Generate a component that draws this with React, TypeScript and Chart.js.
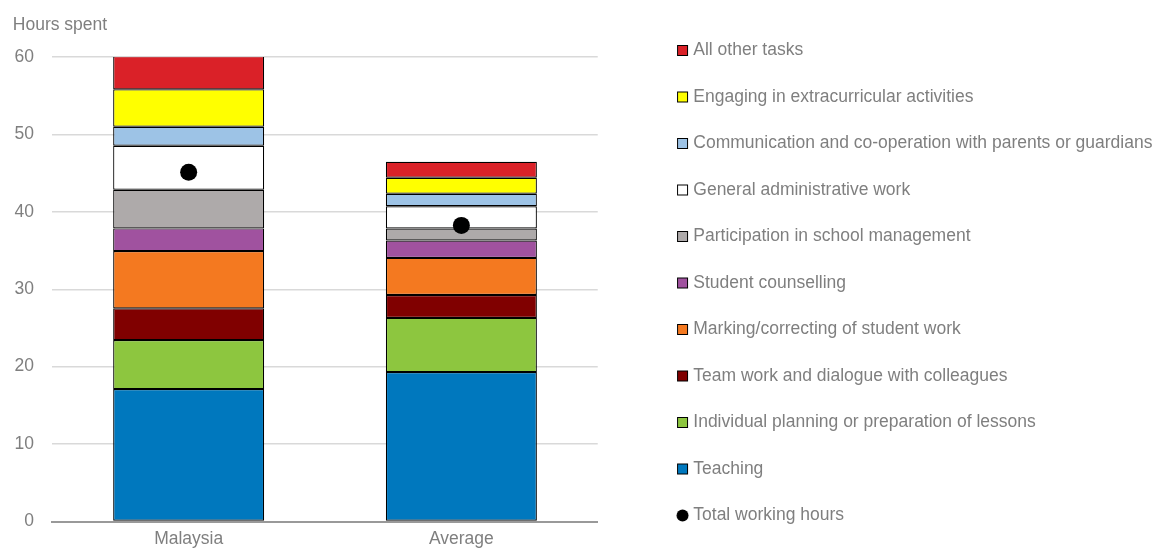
import React, { useEffect, useRef } from 'react';
import { Chart, registerables } from 'chart.js';

Chart.register(...registerables);

// ---- Data (hours per week) ----
const categories = ['Malaysia', 'Average'];
const teaching = [17.1, 19.3];
const planning = [6.33, 7.0];
const teamwork = [4.1, 2.95];
const marking = [7.4, 4.8];
const counselling = [2.93, 2.25];
const management = [4.99, 1.55];
const adminWork = [5.68, 2.88];
const parents = [2.46, 1.6];
const extracurricular = [4.83, 2.07];
const otherTasks = [4.3, 2.06];
const totalHours = [45.1, 38.25];
const yTickValues = [0, 10, 20, 30, 40, 50, 60];

const yAxisTitle = 'Hours spent';
const seriesLabels = [
  'Teaching',
  'Individual planning or preparation of lessons',
  'Team work and dialogue with colleagues',
  'Marking/correcting of student work',
  'Student counselling',
  'Participation in school management',
  'General administrative work',
  'Communication and co-operation with parents or guardians',
  'Engaging in extracurricular activities',
  'All other tasks',
];
const seriesValues = [
  teaching, planning, teamwork, marking, counselling,
  management, adminWork, parents, extracurricular, otherTasks,
];
const seriesColors = [
  '#0078BE', '#8DC63F', '#800000', '#F47920', '#A0529F',
  '#AEAAAA', '#FFFFFF', '#9DC3E6', '#FFFF00', '#DA2128',
];
const totalLabel = 'Total working hours';

const FONT = "'Liberation Sans', Arial, sans-serif";
const TEXT = '#7f7f7f';

function makeSwatch(fill: string, circle: boolean): HTMLCanvasElement {
  const c = document.createElement('canvas');
  c.width = 20;
  c.height = 13;
  const g = c.getContext('2d')!;
  if (circle) {
    g.fillStyle = '#000';
    g.beginPath();
    g.arc(13.5, 6.5, 6, 0, Math.PI * 2);
    g.fill();
  } else {
    g.fillStyle = fill;
    g.fillRect(8, 1, 11, 11);
    g.strokeStyle = '#000';
    g.lineWidth = 1;
    g.strokeRect(8.5, 1.5, 10, 10);
  }
  return c;
}

export default function App() {
  const ref = useRef<HTMLCanvasElement>(null);

  useEffect(() => {
    const barSets = seriesLabels.map((label, i) => ({
      type: 'bar' as const,
      label,
      data: seriesValues[i],
      backgroundColor: seriesColors[i],
      borderColor: '#000',
      borderWidth: 1.2,
      borderSkipped: false,
      stack: 'hours',
      order: 1,
    }));
    const totalSet = {
      type: 'line' as const,
      label: totalLabel,
      data: totalHours,
      showLine: false,
      pointRadius: 8.5,
      pointHoverRadius: 8.5,
      pointBackgroundColor: '#000',
      pointBorderWidth: 0,
      borderColor: '#000',
      backgroundColor: '#000',
      stack: 'total',
      order: 0,
    };

    const swatches = seriesColors.map((c) => makeSwatch(c, false));
    const totalSwatch = makeSwatch('#000', true);

    const chart = new Chart(ref.current!, {
      type: 'bar',
      data: {
        labels: categories,
        datasets: [...barSets, totalSet] as any,
      },
      options: {
        responsive: false,
        animation: false,
        events: [],
        layout: { padding: { left: 12.8, right: 0, top: 0, bottom: 8.5 } },
        datasets: {
          bar: { categoryPercentage: 0.5537, barPercentage: 1 },
        },
        plugins: {
          tooltip: { enabled: false },
          title: {
            display: true,
            text: yAxisTitle,
            align: 'start',
            color: TEXT,
            font: { family: FONT, size: 17.5, weight: 'normal', lineHeight: 1.2 },
            padding: { top: 14.3, bottom: 21.7 },
          },
          legend: {
            display: true,
            position: 'right',
            align: 'start',
            maxWidth: 509.46,
            title: {
              display: true,
              text: '',
              font: { size: 10, lineHeight: 1 },
              padding: { top: 2.75, bottom: 0 },
            },
            labels: {
              usePointStyle: true,
              boxWidth: 11,
              boxHeight: 11,
              padding: 29,
              color: TEXT,
              font: { family: FONT, size: 17.5 },
              generateLabels: () => {
                const items = seriesLabels.map((label, i) => ({
                  text: label,
                  fillStyle: seriesColors[i],
                  strokeStyle: '#000',
                  lineWidth: 0,
                  pointStyle: swatches[i],
                  hidden: false,
                  datasetIndex: i,
                  fontColor: TEXT,
                }));
                items.reverse();
                items.push({
                  text: totalLabel,
                  fillStyle: '#000',
                  strokeStyle: '#000',
                  lineWidth: 0,
                  pointStyle: totalSwatch,
                  hidden: false,
                  datasetIndex: seriesLabels.length,
                  fontColor: TEXT,
                });
                return items as any;
              },
            },
          },
        },
        scales: {
          x: {
            stacked: true,
            grid: { display: false, drawTicks: false },
            border: { display: true, color: '#999999', width: 2 },
            ticks: { color: TEXT, font: { family: FONT, size: 17.5 }, padding: 7.5 },
            afterFit: (s: any) => { s.height = 50; },
          },
          y: {
            stacked: true,
            min: 0,
            max: 60,
            afterBuildTicks: (s: any) => { s.ticks = yTickValues.map((v) => ({ value: v })); },
            ticks: { color: TEXT, font: { family: FONT, size: 17.5 }, padding: 18.3 },
            grid: { color: '#d9d9d9', lineWidth: 1.5, drawTicks: false },
            border: { display: false },
            afterFit: (s: any) => { s.width = 39.5; },
          },
          gap: {
            type: 'linear',
            position: 'right',
            display: true,
            grid: { display: false },
            ticks: { display: false },
            border: { display: false },
            afterFit: (s: any) => { s.width = 46.8; },
          },
        } as any,
      },
    });
    return () => chart.destroy();
  }, []);

  return (
    <div
      style={{
        position: 'absolute',
        left: 0,
        top: 0,
        width: 1154,
        height: 549,
        overflow: 'hidden',
        background: '#ffffff',
      }}
    >
      <canvas
        ref={ref}
        width={1154}
        height={580}
        style={{ display: 'block', width: 1154, height: 580 }}
      />
    </div>
  );
}
